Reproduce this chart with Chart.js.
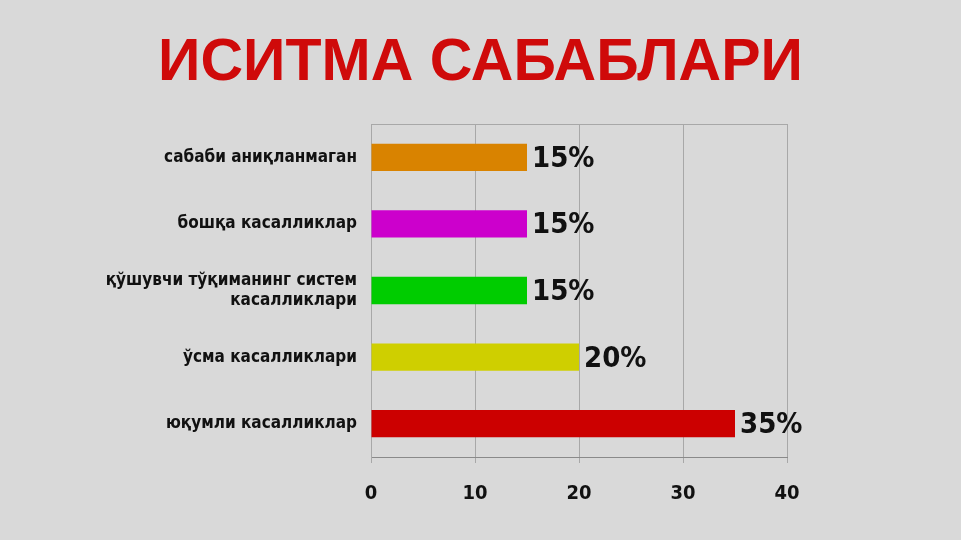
<!DOCTYPE html>
<html>
<head>
<meta charset="utf-8">
<script src="https://cdn.jsdelivr.net/npm/chart.js@4"></script>
<style>
  html, body { margin: 0; padding: 0; background: #d9d9d9; }
  #wrap { width: 961px; height: 540px; }
</style>
</head>
<body>
<div id="wrap"><canvas id="chart"></canvas></div>
<script>
const chartTitle = 'ИСИТМА САБАБЛАРИ';
const categories = [
  'сабаби аниқланмаган',
  'бошқа касалликлар',
  ['қўшувчи тўқиманинг систем', 'касалликлари'],
  'ўсма касалликлари',
  'юқумли касалликлар'
];
const values = [15, 15, 15, 20, 35];
const barColors = ['#d98300', '#cc00cc', '#00cc00', '#cfcf00', '#cc0000'];
const xTicks = [0, 10, 20, 30, 40];

const narrow = '"Liberation Sans Narrow", "Arial Narrow", "DejaVu Sans Condensed", sans-serif';

// title centred on the whole slide, not just the plot
const slideTitle = {
  id: 'slideTitle',
  afterDraw(chart) {
    const ctx = chart.ctx;
    ctx.save();
    ctx.font = 'bold 59px "Liberation Sans", Arial, sans-serif';
    ctx.fillStyle = '#cf0a0a';
    ctx.textAlign = 'center';
    ctx.textBaseline = 'middle';
    ctx.fillText(chartTitle, chart.width / 2, 64);
    ctx.restore();
  }
};

// percent labels to the right of each bar
const valueLabels = {
  id: 'valueLabels',
  afterDatasetsDraw(chart) {
    const ctx = chart.ctx;
    const meta = chart.getDatasetMeta(0);
    ctx.save();
    ctx.font = 'bold 29px ' + narrow;
    ctx.fillStyle = '#111';
    ctx.textBaseline = 'middle';
    meta.data.forEach((bar, i) => {
      ctx.fillText(values[i] + '%', bar.x + 5, bar.y + 2);
    });
    ctx.restore();
  }
};

new Chart(document.getElementById('chart'), {
  type: 'bar',
  data: {
    labels: categories,
    datasets: [{
      data: values,
      backgroundColor: barColors,
      borderWidth: 0,
      categoryPercentage: 1,
      barPercentage: 0.41
    }]
  },
  options: {
    indexAxis: 'y',
    responsive: true,
    maintainAspectRatio: false,
    animation: false,
    layout: { padding: { left: 0, right: 174, top: 124, bottom: 15 } },
    plugins: {
      legend: { display: false },
      tooltip: { enabled: false },
      title: { display: false }
    },
    scales: {
      x: {
        min: 0,
        max: 40,
        afterBuildTicks: s => { s.ticks = xTicks.map(v => ({ value: v })); },
        grid: { color: '#a8a8a8', lineWidth: 1, tickLength: 6 },
        border: { color: '#8a8a8a', width: 1 },
        ticks: {
          color: '#111',
          padding: 19,
          font: { family: narrow, size: 20, weight: 'bold' }
        }
      },
      y: {
        afterFit: s => { s.width = 371; },
        grid: {
          color: c => c.index === 0 ? '#a8a8a8' : 'transparent',
          tickLength: 0
        },
        border: { color: '#a8a8a8', width: 1 },
        ticks: {
          color: '#111',
          padding: 14,
          font: { family: narrow, size: 17, weight: 'bold' }
        }
      }
    }
  },
  plugins: [valueLabels, slideTitle]
});
</script>
</body>
</html>
